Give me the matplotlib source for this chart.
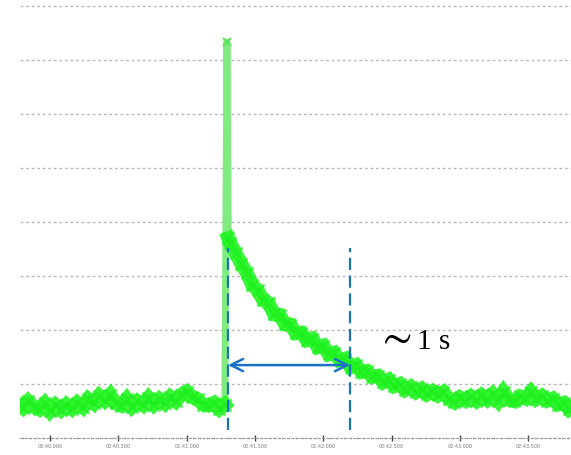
import numpy as np
import matplotlib
matplotlib.use("Agg")
import matplotlib.pyplot as plt

# signal trace (time in s, level in grid units)
t = [-0.24, -0.20, -0.16, -0.12, -0.08, -0.04, 0.00, 0.04, 0.08, 0.12,
     0.16, 0.20, 0.24, 0.28, 0.32, 0.36, 0.40, 0.44, 0.48, 0.52,
     0.56, 0.60, 0.64, 0.68, 0.72, 0.76, 0.80, 0.84, 0.88, 0.92,
     0.96, 1.00, 1.04, 1.08, 1.12, 1.16, 1.20, 1.24, 1.28,
     1.295, 1.305,
     1.32, 1.36, 1.40, 1.44, 1.48, 1.52, 1.56, 1.60, 1.64, 1.68,
     1.72, 1.76, 1.80, 1.84, 1.88, 1.92, 1.96, 2.00, 2.04, 2.08,
     2.12, 2.16, 2.20, 2.24, 2.28, 2.32, 2.36, 2.40, 2.44, 2.48,
     2.52, 2.56, 2.60, 2.64, 2.68, 2.72, 2.76, 2.80, 2.84, 2.88,
     2.92, 2.96, 3.00, 3.04, 3.08, 3.12, 3.16, 3.20, 3.24, 3.28,
     3.32, 3.36, 3.40, 3.44, 3.48, 3.52, 3.56, 3.60, 3.64, 3.68,
     3.72, 3.76, 3.80, 3.84]
level = [0.64, 0.56, 0.68, 0.58, 0.53, 0.64, 0.50, 0.61, 0.52, 0.62,
         0.54, 0.65, 0.57, 0.72, 0.64, 0.78, 0.69, 0.80, 0.64, 0.60,
         0.72, 0.58, 0.68, 0.61, 0.74, 0.62, 0.72, 0.64, 0.76, 0.68,
         0.80, 0.86, 0.76, 0.72, 0.62, 0.60, 0.65, 0.54, 0.62,
         7.33, 3.70,
         3.61, 3.42, 3.22, 3.06, 2.83, 2.74, 2.55, 2.50, 2.29, 2.28,
         2.11, 2.10, 1.94, 1.95, 1.81, 1.84, 1.68, 1.71, 1.55, 1.58,
         1.44, 1.47, 1.31, 1.35, 1.22, 1.24, 1.13, 1.15, 1.03, 1.08,
         0.96, 1.00, 0.89, 0.95, 0.85, 0.91, 0.81, 0.87, 0.79, 0.85,
         0.72, 0.66, 0.75, 0.69, 0.77, 0.69, 0.79, 0.71, 0.81, 0.69,
         0.85, 0.71, 0.68, 0.77, 0.73, 0.85, 0.72, 0.78, 0.69, 0.73,
         0.62, 0.65, 0.53, 0.60]
spike = 39  # index of the peak sample

tick_pos = [0.0, 0.5, 1.0, 1.5, 2.0, 2.5, 3.0, 3.5]
tick_lab = ["02:40.000", "02:40.500", "02:41.000", "02:41.500",
            "02:42.000", "02:42.500", "02:43.000", "02:43.500"]
grid_levels = [1, 2, 3, 4, 5, 6, 7, 8]

t_start, t_end = 1.303, 2.196   # marked interval
arrow_level = 1.35

fig = plt.figure(figsize=(5.71, 4.55), dpi=100)
ax = fig.add_axes([20 / 571, 17 / 455, 551 / 571, 438 / 455])
ax.set_xlim(-0.22, 3.814)
ax.set_ylim(0, 8.11)

for g in grid_levels:
    ax.axhline(g, color="#b8b8b8", lw=1.0, ls=(0, (2, 2)), zorder=1)

# thin light trace for the whole record (spike)
ax.plot(t, level, color="#80ec80", lw=5, zorder=2)
ax.plot(t[spike], level[spike], color="#60e060", marker="x", ms=6, mew=1.5,
        zorder=3)
# noisy baseline and decay: heavy band with jagged edges
for a, b in ((0, spike), (spike + 1, len(t))):
    ax.plot(t[a:b], level[a:b], color="#22f522", lw=10, alpha=0.9,
            solid_joinstyle="miter", zorder=3)
    ax.plot(t[a:b], level[a:b], color="#1ef01e", lw=0, marker="x", ms=9,
            mew=2, alpha=0.7, zorder=3)

for tx in (t_start, t_end):
    ax.plot([tx, tx], [0.15, 3.52], color="#1a72c6", lw=1.6,
            dashes=(5.5, 2.5), zorder=4)
ax.annotate("", xy=(t_start, arrow_level), xytext=(t_end, arrow_level),
            arrowprops=dict(arrowstyle="<->", color="#1a72c6", lw=1.8,
                            mutation_scale=22, shrinkA=0, shrinkB=0),
            zorder=5)
ax.text(2.385, 1.66, r"$\sim$", fontsize=31, va="baseline", ha="left",
        math_fontfamily="stix")
ax.text(2.69, 1.65, "1 s", fontsize=21, va="baseline", ha="left",
        family=["Liberation Serif"])

for s in ("top", "right", "left"):
    ax.spines[s].set_visible(False)
ax.spines["bottom"].set_color("#999999")
ax.spines["bottom"].set_linestyle((0, (2, 2)))
ax.set_yticks([])
ax.set_xticks(tick_pos)
ax.set_xticklabels(tick_lab, fontsize=3.5, color="#777777")
ax.set_xticks(np.arange(-0.2, 3.81, 0.05), minor=True)
ax.tick_params(axis="x", which="major", length=5, width=1, color="#444444",
               direction="inout", pad=2)
ax.tick_params(axis="x", which="minor", length=2, width=0.6, color="#aaaaaa",
               direction="inout")

fig.savefig("out.png", dpi=100)
